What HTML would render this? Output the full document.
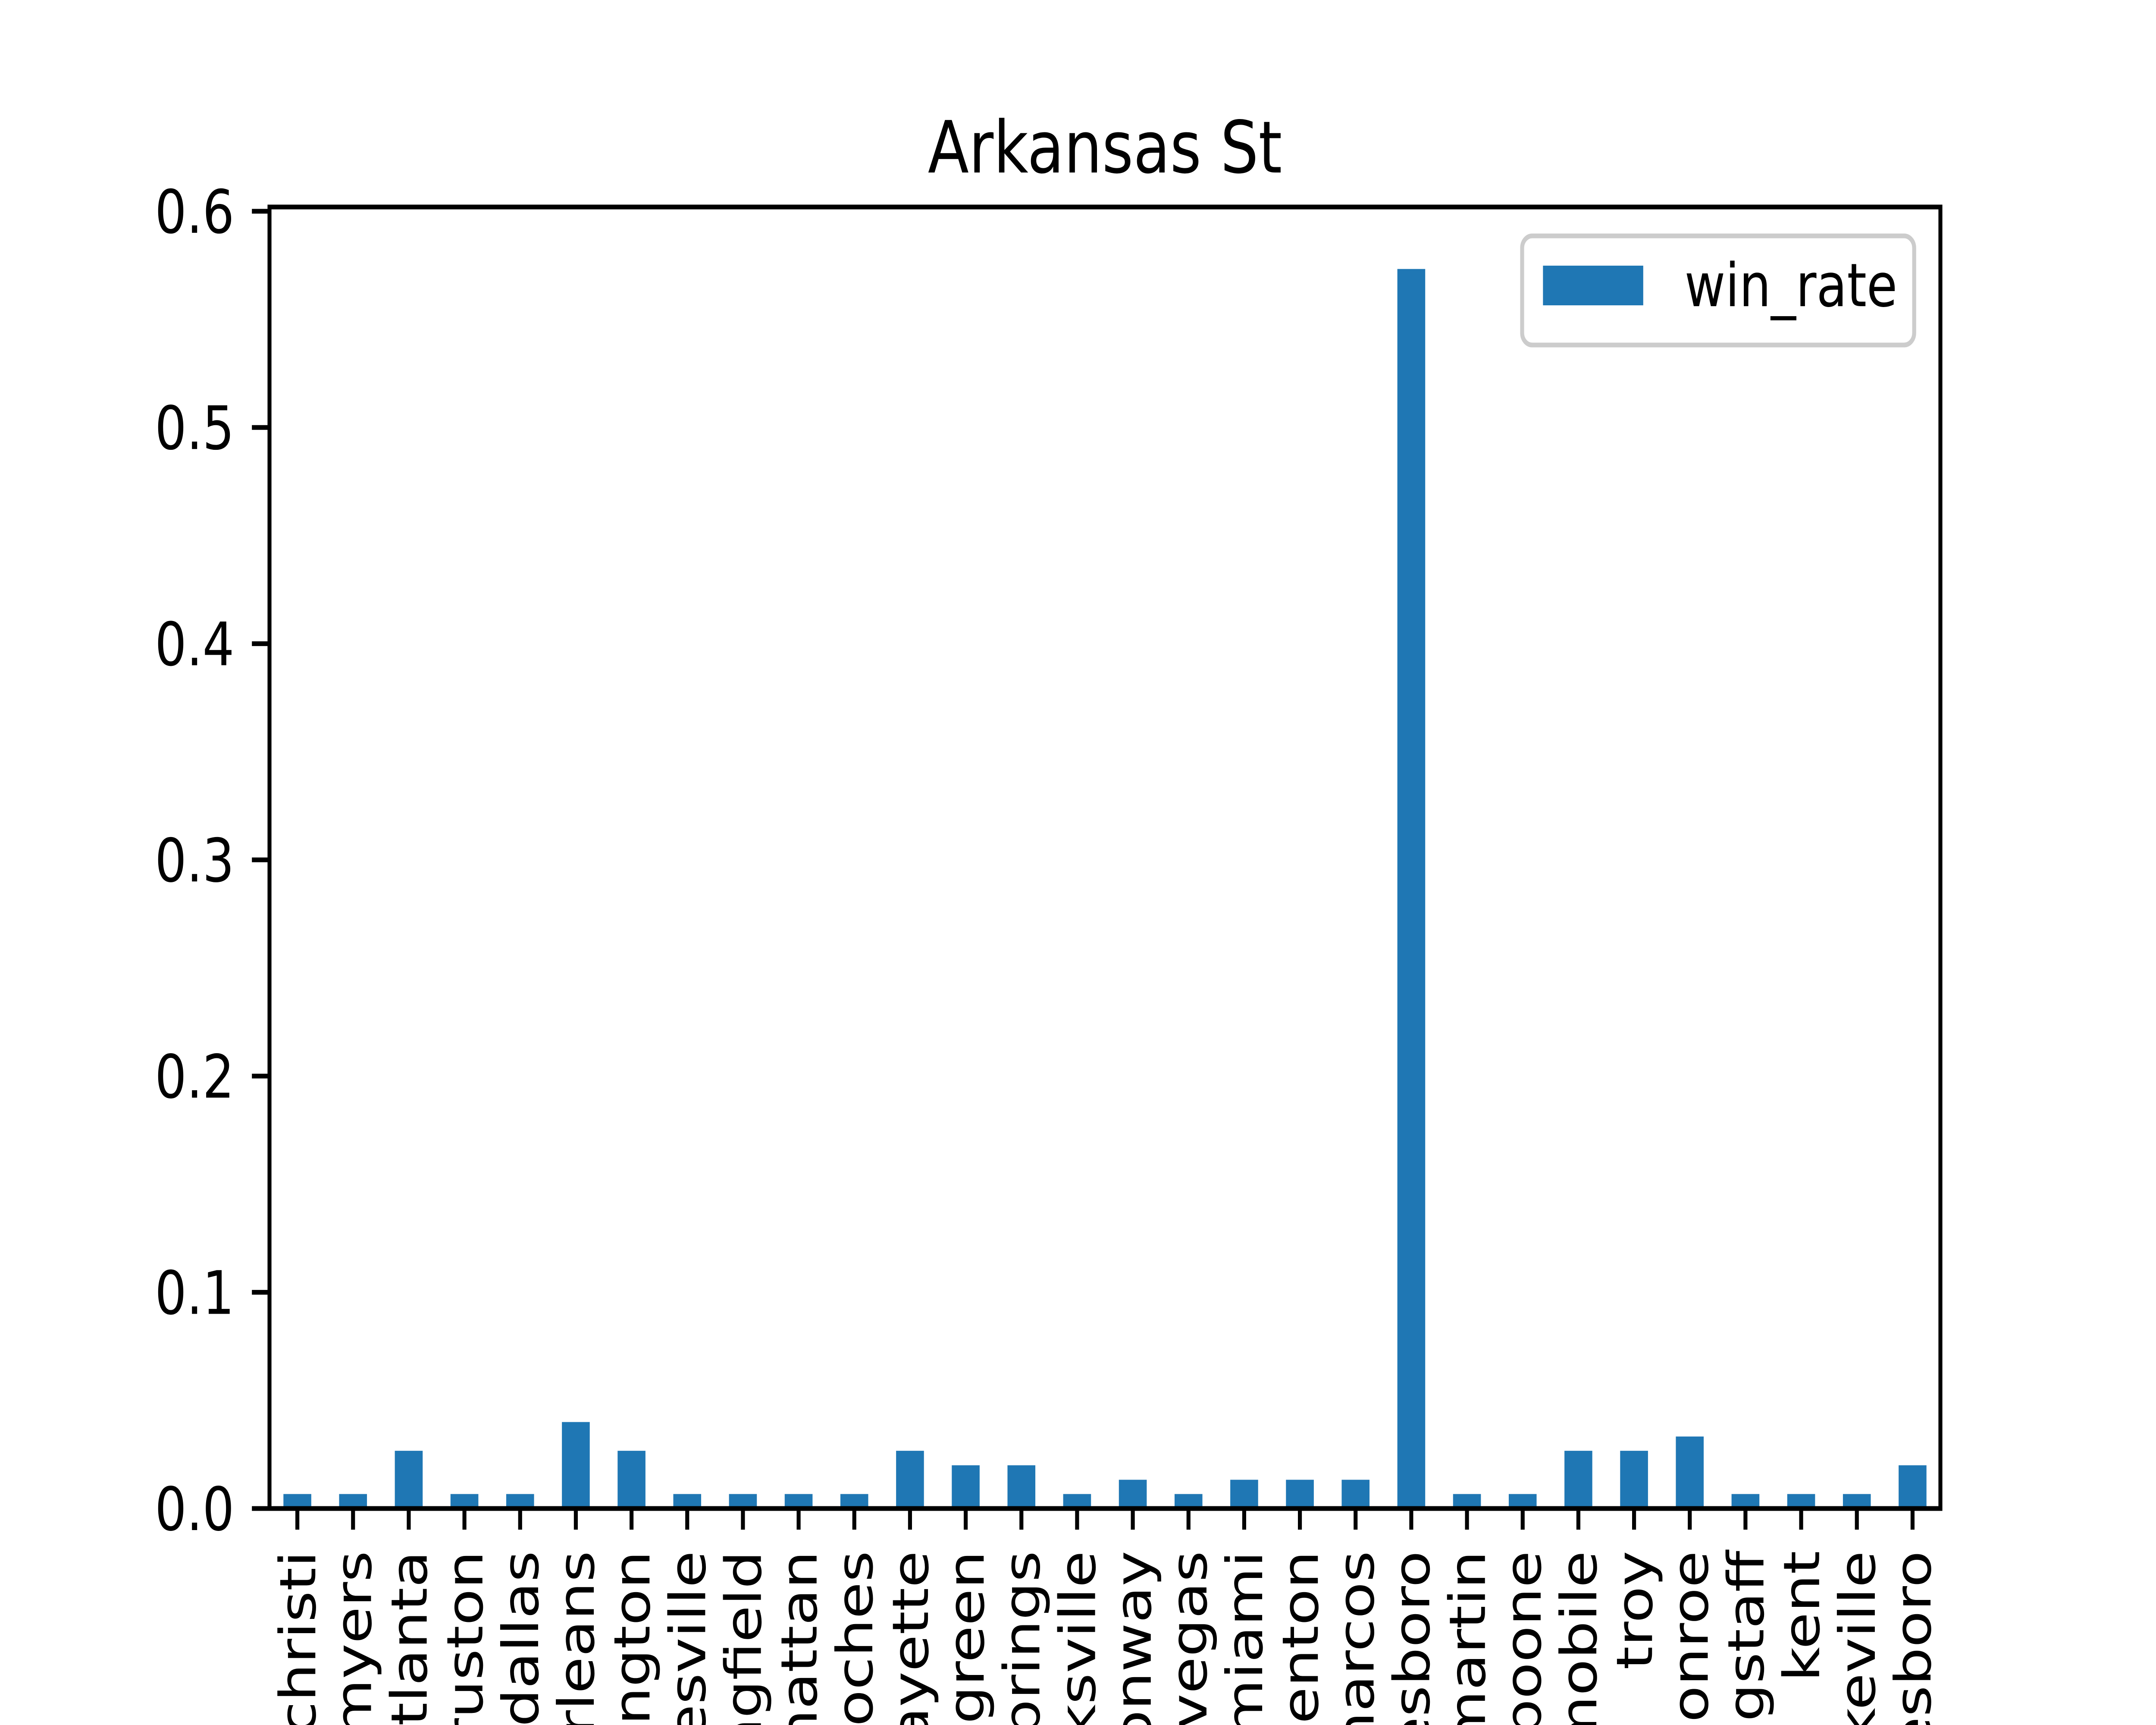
<!DOCTYPE html>
<html><head><meta charset="utf-8">
<style>
html,body{margin:0;padding:0;background:#fff;width:100%;height:100%;overflow:hidden;}
svg{display:block;overflow:hidden;width:100vw;height:100vh;font-family:"DejaVu Sans","Liberation Sans",sans-serif;}
</style></head>
<body>
<svg id="chart" viewBox="0 0 6000 4000" preserveAspectRatio="none" xmlns="http://www.w3.org/2000/svg">
<defs><clipPath id="frameclip"><rect x="0" y="0" width="6000" height="4000"/></clipPath></defs>
<rect x="0" y="0" width="6000" height="4000" fill="#fff"/>
<text x="3075" y="400" font-size="167" text-anchor="middle">Arkansas St</text>
<g id="bars"></g>
<g id="xticks" clip-path="url(#frameclip)"></g>
<g id="yticks"></g>
<rect x="750" y="480" width="4650" height="3018" fill="none" stroke="#000" stroke-width="11"/>
<g>
<rect x="4236" y="547" width="1091" height="253" rx="28" fill="#fff" fill-opacity="0.8" stroke="#cccccc" stroke-width="11"/>
<rect x="4294" y="616" width="279" height="92" fill="#1f77b4"/>
<text x="4688" y="710" font-size="139">win_rate</text>
</g>
</svg>
<script>
const categories = ["corpus christi","fort myers","atlanta","ruston","dallas","new orleans","lexington","gainesville","springfield","manhattan","nacogdoches","lafayette","bowling green","hot springs","clarksville","conway","las vegas","miami","denton","san marcos","jonesboro","martin","boone","mobile","troy","monroe","flagstaff","kent","cookeville","statesboro"];
const winRate = [0.0067,0.0067,0.0267,0.0067,0.0067,0.04,0.0267,0.0067,0.0067,0.0067,0.0067,0.0267,0.02,0.02,0.0067,0.0133,0.0067,0.0133,0.0133,0.0133,0.5733,0.0067,0.0067,0.0267,0.0267,0.0333,0.0067,0.0067,0.0067,0.02];
const yTicks = [0.0,0.1,0.2,0.3,0.4,0.5,0.6];
const yTickLabels = ["0.0","0.1","0.2","0.3","0.4","0.5","0.6"];

const NS="http://www.w3.org/2000/svg";
const L=750,R=5400,T=480,B=3498;
const yMax=Math.max(...winRate)*1.05;
const step=(R-L)/categories.length;
function xPos(i){return L+(i+0.5)*step;}
function yPos(v){return B-(v/yMax)*(B-T);}
const barsG=document.getElementById('bars');
const xt=document.getElementById('xticks');
const yt=document.getElementById('yticks');
const labelTop=B+98, maxLen=4000-labelTop+160;
categories.forEach((c,i)=>{
  const cx=xPos(i), w=step*0.5, y=yPos(winRate[i]);
  const r=document.createElementNS(NS,'rect');
  r.setAttribute('x',cx-w/2);r.setAttribute('y',y);r.setAttribute('width',w);r.setAttribute('height',B-y);
  r.setAttribute('fill','#1f77b4');
  
  
  barsG.appendChild(r);
  const t=document.createElementNS(NS,'line');
  t.setAttribute('x1',cx);t.setAttribute('x2',cx);t.setAttribute('y1',B);t.setAttribute('y2',B+49);
  t.setAttribute('stroke','#000');t.setAttribute('stroke-width','11');
  
  
  xt.appendChild(t);
  const tx=document.createElementNS(NS,'text');
  tx.setAttribute('x',0);tx.setAttribute('y',0);
  tx.setAttribute('transform','translate('+(cx+50)+','+labelTop+') rotate(-90)');
  tx.setAttribute('text-anchor','end');tx.setAttribute('font-size','139');
  tx.textContent=c;
  
  
  xt.appendChild(tx);
  let s=c;
  while(s.length>1 && tx.getComputedTextLength()>maxLen){s=s.slice(1);tx.textContent=s;}
});
yTicks.forEach((v,i)=>{
  const y=yPos(v);
  const t=document.createElementNS(NS,'line');
  t.setAttribute('x1',L-49);t.setAttribute('x2',L);t.setAttribute('y1',y);t.setAttribute('y2',y);
  t.setAttribute('stroke','#000');t.setAttribute('stroke-width','11');
  
  
  yt.appendChild(t);
  const tx=document.createElementNS(NS,'text');
  tx.setAttribute('x',L-98);tx.setAttribute('y',y+50);
  tx.setAttribute('text-anchor','end');tx.setAttribute('font-size','139');
  tx.textContent=yTickLabels[i];
  
  
  yt.appendChild(tx);
});
</script>
</body></html>
